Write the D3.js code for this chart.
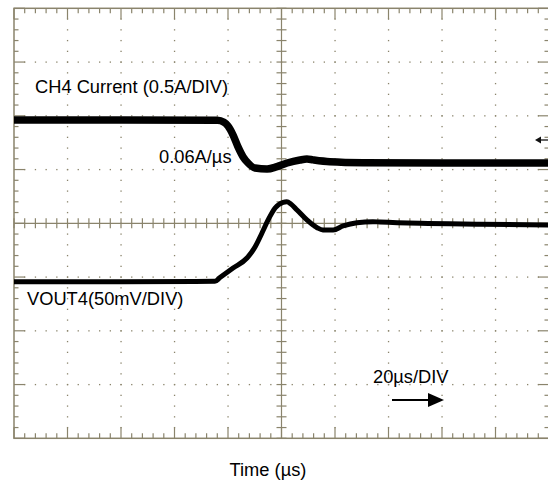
<!DOCTYPE html>
<html>
<head>
<meta charset="utf-8">
<script src="https://cdn.jsdelivr.net/npm/d3@7"></script>
<style>
  html, body { margin: 0; padding: 0; background: #fff; }
  svg { display: block; }
  text { font-family: "Liberation Sans", Arial, Helvetica, sans-serif; fill: #000; }
</style>
</head>
<body>
<script>
// Channel 4 load-step capture: inductor current and output voltage, 20 µs/div.
const currentTime = [-100, -60, -24.0, -21.5, -20.0, -18.1, -16.3, -14.4, -12.5, -9.9, -5.4, -1.7, 2.1, 6.9, 9.5, 11.8, 18.1, 30.5, 60, 100];
const currentAmps = [0.961, 0.961, 0.958, 0.940, 0.905, 0.821, 0.713, 0.620, 0.561, 0.514, 0.505, 0.527, 0.561, 0.589, 0.598, 0.590, 0.573, 0.564, 0.561, 0.561];

const voltageTime = [-100, -60, -24.9, -23.0, -18.1, -12.9, -9.9, -7.3, -5.0, -2.4, 0.6, 2.0, 3.5, 5.8, 9.5, 13.3, 15.5, 19.3, 23.0, 28.2, 34.2, 36.8, 51.8, 74.2, 100];
const voltageMv   = [-54.3, -54.3, -54.0, -50.5, -41.6, -32.3, -22.1, -9.0, 3.1, 14.2, 19.5, 20.0, 18.0, 12.4, 3.1, -4.1, -6.2, -6.2, -2.5, 0.6, 1.5, 1.2, 0.0, -0.8, -1.5];

// Scope settings
const timePerDiv = 20;      // µs
const ampsPerDiv = 0.5;     // A
const mvPerDiv = 50;        // mV
const xDivs = 10, yDivs = 8, minorPerDiv = 5;

const W = 548, H = 484;
const plotLeft = 14, plotRight = 549, plotTop = 8.3, plotBottom = 438.3;
const gridColor = "#8a846c";

const svg = d3.select("body").append("svg").attr("width", W).attr("height", H);

const x = d3.scaleLinear().domain([-xDivs / 2 * timePerDiv, xDivs / 2 * timePerDiv]).range([plotLeft, plotRight]);
const yDiv = d3.scaleLinear().domain([-yDivs / 2, yDivs / 2]).range([plotBottom, plotTop]);
const yAmp = d3.scaleLinear().domain([-yDivs / 2 * ampsPerDiv, yDivs / 2 * ampsPerDiv]).range([plotBottom, plotTop]);
const yMv = d3.scaleLinear().domain([-yDivs / 2 * mvPerDiv, yDivs / 2 * mvPerDiv]).range([plotBottom, plotTop]);

const grid = svg.append("g").attr("class", "graticule");

// Minor positions (in divisions)
const xMinor = d3.range(-xDivs / 2 * minorPerDiv, xDivs / 2 * minorPerDiv + 1).map(i => i / minorPerDiv);
const yMinor = d3.range(-yDivs / 2 * minorPerDiv, yDivs / 2 * minorPerDiv + 1).map(i => i / minorPerDiv);
const xMajor = d3.range(-xDivs / 2 + 1, xDivs / 2).filter(d => d !== 0);
const yMajor = d3.range(-yDivs / 2 + 1, yDivs / 2).filter(d => d !== 0);
const xd = d => x(d * timePerDiv);

// Dotted major grid lines
xMajor.forEach(c => {
  grid.selectAll(null).data(yMinor.filter(v => Math.abs(v) < yDivs / 2)).join("rect")
    .attr("x", xd(c) - 0.6).attr("y", d => yDiv(d) - 0.6)
    .attr("width", 1.3).attr("height", 1.3).attr("fill", gridColor);
});
yMajor.forEach(r => {
  grid.selectAll(null).data(xMinor.filter(v => Math.abs(v) < xDivs / 2)).join("rect")
    .attr("x", d => xd(d) - 0.6).attr("y", yDiv(r) - 0.6)
    .attr("width", 1.3).attr("height", 1.3).attr("fill", gridColor);
});

// Centre crosshair with minor ticks
grid.append("line").attr("x1", plotLeft).attr("x2", plotRight).attr("y1", yDiv(0)).attr("y2", yDiv(0))
  .attr("stroke", gridColor).attr("stroke-width", 1.2);
grid.append("line").attr("x1", xd(0)).attr("x2", xd(0)).attr("y1", plotTop).attr("y2", plotBottom)
  .attr("stroke", gridColor).attr("stroke-width", 1.2);
grid.selectAll(null).data(xMinor).join("line")
  .attr("x1", d => xd(d)).attr("x2", d => xd(d))
  .attr("y1", yDiv(0) - 5).attr("y2", yDiv(0) + 5)
  .attr("stroke", gridColor).attr("stroke-width", 1.2);
grid.selectAll(null).data(yMinor).join("line")
  .attr("y1", d => yDiv(d)).attr("y2", d => yDiv(d))
  .attr("x1", xd(0) - 5).attr("x2", xd(0) + 5)
  .attr("stroke", gridColor).attr("stroke-width", 1.2);

// Frame and border ticks
grid.append("rect").attr("x", plotLeft).attr("y", plotTop)
  .attr("width", plotRight - plotLeft).attr("height", plotBottom - plotTop)
  .attr("fill", "none").attr("stroke", gridColor).attr("stroke-width", 1.5);
const isMajor = v => Math.abs(v - Math.round(v)) < 1e-6;
grid.selectAll(null).data(xMinor).join("line")
  .attr("x1", d => xd(d)).attr("x2", d => xd(d))
  .attr("y1", plotTop).attr("y2", d => plotTop + (isMajor(d) ? 11 : 5))
  .attr("stroke", gridColor).attr("stroke-width", 1.2);
grid.selectAll(null).data(xMinor).join("line")
  .attr("x1", d => xd(d)).attr("x2", d => xd(d))
  .attr("y1", plotBottom).attr("y2", d => plotBottom - (isMajor(d) ? 11 : 5))
  .attr("stroke", gridColor).attr("stroke-width", 1.2);
grid.selectAll(null).data(yMinor).join("line")
  .attr("y1", d => yDiv(d)).attr("y2", d => yDiv(d))
  .attr("x1", plotLeft).attr("x2", d => plotLeft + (isMajor(d) ? 11 : 4.5))
  .attr("stroke", gridColor).attr("stroke-width", 1.2);
grid.selectAll(null).data(yMinor).join("line")
  .attr("y1", d => yDiv(d)).attr("y2", d => yDiv(d))
  .attr("x1", plotRight).attr("x2", d => plotRight - (isMajor(d) ? 11 : 4.5))
  .attr("stroke", gridColor).attr("stroke-width", 1.2);

// Traces
const currentLine = d3.line().x((d, i) => x(currentTime[i])).y(d => yAmp(d)).curve(d3.curveMonotoneX);
const voltageLine = d3.line().x((d, i) => x(voltageTime[i])).y(d => yMv(d)).curve(d3.curveMonotoneX);

svg.append("path").datum(currentAmps).attr("d", currentLine)
  .attr("fill", "none").attr("stroke", "#000").attr("stroke-width", 7.5).attr("stroke-linejoin", "round");
svg.append("path").datum(voltageMv).attr("d", voltageLine)
  .attr("fill", "none").attr("stroke", "#000").attr("stroke-width", 5).attr("stroke-linejoin", "round");

// Reference marker on the right edge
svg.append("line").attr("x1", 539).attr("x2", 548).attr("y1", 140).attr("y2", 140)
  .attr("stroke", "#333").attr("stroke-width", 1.5);
svg.append("path").attr("d", "M535,140 L541,136.5 L541,143.5 Z").attr("fill", "#111");

// Annotations
const fs = 18.3;
svg.append("text").attr("x", 35).attr("y", 93).attr("font-size", fs).text("CH4 Current (0.5A/DIV)");
svg.append("text").attr("x", 159).attr("y", 163).attr("font-size", fs).text("0.06A/µs");
svg.append("text").attr("x", 27).attr("y", 305).attr("font-size", fs).text("VOUT4(50mV/DIV)");
svg.append("text").attr("x", 373).attr("y", 383).attr("font-size", fs).text("20µs/DIV");

// Time-direction arrow
svg.append("line").attr("x1", 392).attr("x2", 430).attr("y1", 400).attr("y2", 400)
  .attr("stroke", "#000").attr("stroke-width", 2);
svg.append("path").attr("d", "M428,393 L444,400 L428,407 Z").attr("fill", "#000");

// Axis title
svg.append("text").attr("x", 268).attr("y", 476).attr("text-anchor", "middle")
  .attr("font-size", fs).text("Time (µs)");
</script>
</body>
</html>
